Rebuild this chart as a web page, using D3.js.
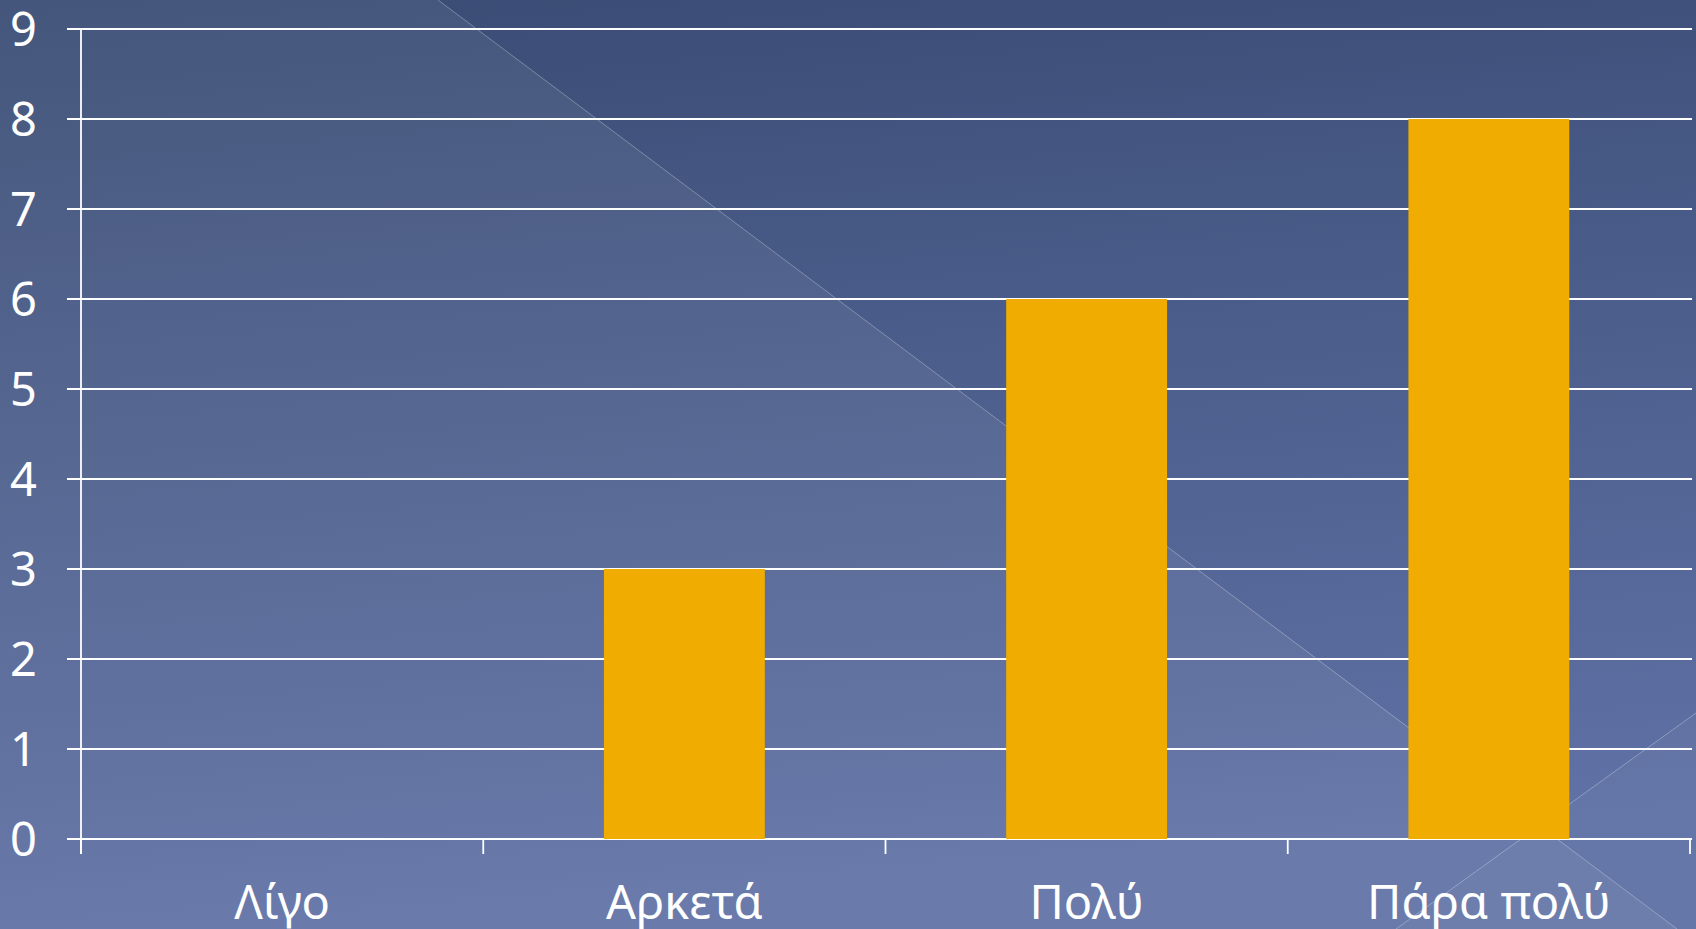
<!DOCTYPE html>
<html>
<head>
<meta charset="utf-8">
<style>
  html, body { margin: 0; padding: 0; background: #3a4c75; overflow: hidden; }
  svg { display: block; }
  .lbl { font-family: "Noto Sans", "DejaVu Sans", sans-serif; font-size: 47px; fill: #fff; }
</style>
</head>
<body>
<script src="https://cdn.jsdelivr.net/npm/d3@7"></script>
<script>

var categories = ["Λίγο", "Αρκετά", "Πολύ", "Πάρα πολύ"];
var values = [0, 3, 6, 8];
var yTicks = [0, 1, 2, 3, 4, 5, 6, 7, 8, 9];

var width = 1696, height = 929;
var margin = {top: 29, right: 6, bottom: 90, left: 81};

var svg = d3.select("body").append("svg")
    .attr("width", width)
    .attr("height", height);

// background: theme gradient plus the two soft diagonal planes
var defs = svg.append("defs");
var grad = defs.append("linearGradient")
    .attr("id", "bg")
    .attr("x1", 0).attr("y1", 0).attr("x2", 0.15).attr("y2", 1);
grad.append("stop").attr("offset", "0%").attr("stop-color", "#3a4c74");
grad.append("stop").attr("offset", "100%").attr("stop-color", "#6072a6");

svg.append("rect")
    .attr("width", width)
    .attr("height", height)
    .attr("fill", "url(#bg)");

svg.append("polygon")
    .attr("points", "0,0 438,0 1677,929 0,929")
    .attr("fill", "#fff")
    .attr("fill-opacity", 0.06);

svg.append("polygon")
    .attr("points", "1396,929 1696,713 1696,929")
    .attr("fill", "#fff")
    .attr("fill-opacity", 0.03);

svg.append("line")
    .attr("x1", 438).attr("y1", 0).attr("x2", 1677).attr("y2", 929)
    .attr("stroke", "#fff").attr("stroke-opacity", 0.3);

svg.append("line")
    .attr("x1", 1396).attr("y1", 929).attr("x2", 1696).attr("y2", 713)
    .attr("stroke", "#fff").attr("stroke-opacity", 0.3);

var x = d3.scaleBand()
    .domain(categories)
    .range([margin.left, width - margin.right])
    .padding(0);

var y = d3.scaleLinear()
    .domain([0, 9])
    .range([height - margin.bottom, margin.top]);

// grid lines (they also act as left ticks)
svg.append("g")
  .selectAll("line")
    .data(yTicks)
  .enter().append("line")
    .attr("x1", margin.left - 14)
    .attr("x2", width - 4)
    .attr("y1", function(d) { return y(d); })
    .attr("y2", function(d) { return y(d); })
    .attr("stroke", "#fff")
    .attr("stroke-width", 1.8);

svg.append("g")
  .selectAll("text")
    .data(yTicks)
  .enter().append("text")
    .attr("class", "lbl")
    .attr("x", 37)
    .attr("y", function(d) { return y(d); })
    .attr("dy", "0.36em")
    .attr("text-anchor", "end")
    .text(function(d) { return d; });

// bars
var barW = x.bandwidth() * 0.4;
svg.append("g")
  .selectAll("rect")
    .data(values)
  .enter().append("rect")
    .attr("x", function(d, i) { return x(categories[i]) + x.bandwidth() / 2 - barW / 2; })
    .attr("width", barW)
    .attr("y", function(d) { return y(d); })
    .attr("height", function(d) { return y(0) - y(d); })
    .attr("fill", "#f0ac00");

// y axis line
svg.append("line")
    .attr("x1", margin.left).attr("x2", margin.left)
    .attr("y1", y(9)).attr("y2", y(0) + 15)
    .attr("stroke", "#fff")
    .attr("stroke-width", 1.8);

// x ticks at band edges
var edges = categories.map(function(c) { return x(c); }).concat([x.range()[1]]);
svg.append("g")
  .selectAll("line")
    .data(edges)
  .enter().append("line")
    .attr("x1", function(d) { return d; })
    .attr("x2", function(d) { return d; })
    .attr("y1", y(0))
    .attr("y2", y(0) + 15)
    .attr("stroke", "#fff")
    .attr("stroke-width", 1.8);

svg.append("g")
  .selectAll("text")
    .data(categories)
  .enter().append("text")
    .attr("class", "lbl")
    .attr("x", function(d) { return x(d) + x.bandwidth() / 2; })
    .attr("y", 919)
    .attr("text-anchor", "middle")
    .text(function(d) { return d; });

</script>
</body>
</html>
